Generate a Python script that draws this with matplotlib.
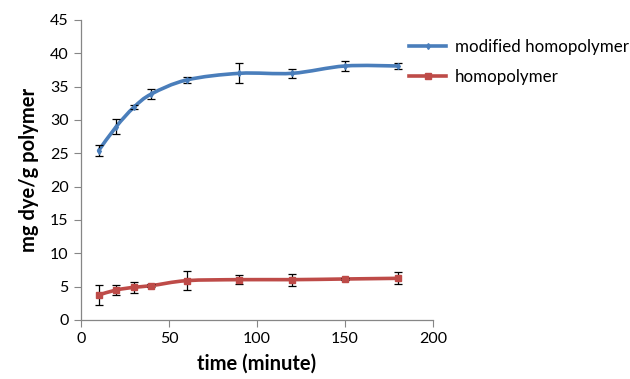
import matplotlib
matplotlib.use('Agg')
import matplotlib.pyplot as plt
from matplotlib.path import Path
from matplotlib.patches import PathPatch
import numpy as np

# data
time_min = [10, 20, 30, 40, 60, 90, 120, 150, 180]
modified = [25.4, 29.0, 31.9, 33.9, 36.0, 37.0, 37.0, 38.1, 38.1]
modified_err = [0.8, 1.1, 0.3, 0.8, 0.5, 1.5, 0.7, 0.8, 0.45]
homo = [3.75, 4.5, 4.9, 5.15, 5.9, 6.05, 6.05, 6.15, 6.25]
homo_err = [1.5, 0.8, 0.85, 0.2, 1.4, 0.7, 0.9, 0.15, 0.9]

blue = '#4A7EBB'
red = '#BE4B48'

plt.rcParams['font.family'] = ['Lato', 'DejaVu Sans']


def smooth_path(x, y):
    # Excel-like smoothed line: cardinal spline as cubic bezier segments
    x = np.asarray(x, float)
    y = np.asarray(y, float)
    pts = np.column_stack([x, y])
    verts = [pts[0]]
    codes = [Path.MOVETO]
    n = len(pts)
    t = 1 / 6
    for i in range(n - 1):
        p0 = pts[max(i - 1, 0)]
        p1 = pts[i]
        p2 = pts[i + 1]
        p3 = pts[min(i + 2, n - 1)]
        c1 = p1 + (p2 - p0) * t
        c2 = p2 - (p3 - p1) * t
        verts += [c1, c2, p2]
        codes += [Path.CURVE4] * 3
    return Path(verts, codes)


fig = plt.figure(figsize=(6.3, 3.79), dpi=100)
ax = fig.add_axes([0.1286, 0.1557, 0.5587, 0.7916])

for ys, es, col, mk, ms, lab in [(modified, modified_err, blue, 'd', 3, 'modified homopolymer'),
                                 (homo, homo_err, red, 's', 4.5, 'homopolymer')]:
    ax.add_patch(PathPatch(smooth_path(time_min, ys), facecolor='none',
                           edgecolor=col, lw=2.6, capstyle='round', zorder=2))
    ax.errorbar(time_min, ys, yerr=es, fmt='none', ecolor='black',
                elinewidth=0.9, capsize=3, capthick=0.9, zorder=3)
    ax.plot(time_min, ys, ls='none', marker=mk, ms=ms, color=col, zorder=4)
    # legend handle
    ax.plot([], [], color=col, lw=2.6, marker=mk, ms=ms, label=lab)

ax.set_xlim(0, 200)
ax.set_ylim(0, 45)
ax.set_xticks(np.arange(0, 201, 50))
ax.set_yticks(np.arange(0, 46, 5))
for s in ['top', 'right']:
    ax.spines[s].set_visible(False)
for s in ['left', 'bottom']:
    ax.spines[s].set_color('#868686')
    ax.spines[s].set_linewidth(0.9)
ax.tick_params(axis='both', direction='out', length=5, color='#868686',
               labelsize=11.5, pad=4)
ax.set_xlabel('time (minute)', fontsize=14.5, fontweight='bold', labelpad=5)
ax.set_ylabel('mg dye/g polymer', fontsize=14.5, fontweight='bold', labelpad=8)

ax.legend(loc='upper left', bbox_to_anchor=(0.913, 0.96), frameon=False,
          fontsize=12.2, handlelength=2.2, handletextpad=0.5,
          labelspacing=0.85, borderaxespad=0)

fig.savefig('out.png', dpi=100)
